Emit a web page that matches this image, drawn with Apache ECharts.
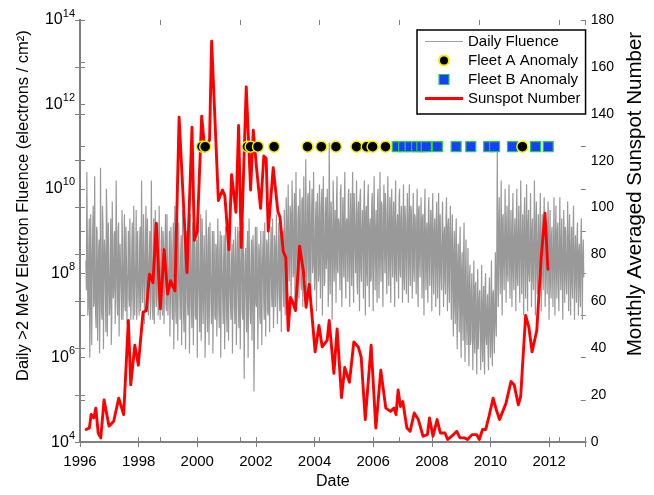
<!DOCTYPE html>
<html><head><meta charset="utf-8">
<script src="https://cdn.jsdelivr.net/npm/echarts@6/dist/echarts.min.js"></script>
<style>html,body{margin:0;padding:0;background:#fff}#c{width:654px;height:495px}</style>
</head><body><div id="c"></div>
<script>
// ---- data ----
const fluenceStartYear = 1996.2;
const fluenceStepYears = 1 / 30;
// daily fluence, log10(electrons / cm^2), samples at start + i*step
const fluenceLog10 = [
8.3,10.4,7.0,8.6,6.0,9.4,6.3,8.9,7.2,10.3,7.0,9.1,6.4,8.5,6.1,
10.5,7.1,9.6,6.2,8.8,7.5,10.0,6.5,9.2,7.0,8.4,6.3,9.7,7.4,8.9,
6.8,10.2,7.3,9.0,6.5,8.7,7.6,9.5,6.9,8.3,7.2,9.1,6.8,8.0,7.4,
9.3,6.9,8.6,7.5,9.6,7.0,8.2,6.9,9.0,7.6,8.7,7.1,10.2,7.3,9.4,
6.8,8.9,7.4,9.3,7.0,8.5,6.9,10.2,7.5,8.3,6.8,9.5,7.2,8.8,7.0,
9.6,6.9,8.4,7.6,9.0,6.8,8.7,7.3,9.4,7.0,8.2,6.5,9.1,7.4,8.6,
6.2,9.6,7.1,8.8,6.4,9.2,7.6,8.5,6.3,9.5,7.0,8.7,6.2,9.0,7.3,
8.4,6.1,9.4,7.2,8.9,6.3,9.6,7.0,8.6,6.0,9.1,7.4,8.8,6.4,9.3,
6.8,8.9,6.0,9.5,7.1,8.6,6.3,9.2,7.3,8.4,6.1,9.0,7.0,8.7,6.5,
9.3,7.2,8.5,6.0,8.9,7.4,8.3,6.2,9.1,7.0,8.6,6.4,9.2,7.3,8.2,
6.1,8.8,7.2,9.1,6.3,8.5,7.5,9.0,6.2,8.7,7.1,9.2,5.5,8.4,7.4,
8.6,6.0,9.3,7.2,8.3,6.4,8.9,5.2,8.5,7.3,9.1,6.2,8.7,7.0,9.0,
6.3,8.5,7.4,9.2,6.5,8.8,7.1,9.0,6.6,8.4,7.5,9.3,6.7,8.9,7.2,
9.4,6.8,8.7,7.5,9.1,6.6,8.9,7.6,9.5,7.0,9.8,7.4,10.1,7.8,9.6,
7.3,10.2,7.9,9.5,7.1,10.4,8.0,9.3,7.4,10.0,7.8,9.7,7.2,10.3,8.1,
10.7,7.5,9.8,7.9,10.2,7.3,9.5,8.0,10.4,7.6,9.2,7.1,9.9,7.8,10.1,
7.4,9.6,7.0,10.3,7.7,9.4,8.1,10.0,7.2,11.1,7.5,9.7,6.9,10.2,7.8,
9.5,7.3,10.3,8.0,9.2,7.6,10.1,7.2,9.8,7.9,10.4,7.4,9.3,7.8,10.0,
7.2,9.9,7.7,10.4,7.3,9.4,8.0,10.2,7.5,9.7,7.1,10.0,7.8,9.5,7.4,
10.2,7.0,9.6,7.7,10.1,7.2,9.3,7.9,9.9,7.1,10.3,7.6,9.5,7.3,10.0,
7.4,10.4,7.8,9.6,7.2,10.1,8.0,9.4,7.5,10.3,7.7,9.8,7.3,10.0,7.9,
9.7,7.2,10.2,7.8,9.4,7.4,10.0,7.9,9.6,7.3,10.1,7.6,9.3,7.5,9.9,
7.3,10.1,7.7,9.5,7.4,9.9,7.8,9.3,7.5,10.0,7.2,9.6,7.9,9.8,7.4,
9.4,7.0,10.0,7.6,9.2,7.3,9.8,7.7,9.5,7.1,9.9,7.5,9.3,7.2,9.7,
7.4,9.9,7.0,9.4,7.6,9.7,7.2,9.1,7.5,9.8,7.1,9.3,7.3,9.6,6.9,
9.4,6.5,9.0,6.8,9.3,6.2,8.7,6.6,9.1,6.0,8.5,6.4,9.2,5.9,8.8,
6.3,8.6,5.8,8.2,6.4,8.0,5.7,8.3,6.1,7.8,5.6,8.1,6.2,7.6,5.7,
8.2,5.9,7.7,5.6,8.0,6.3,7.5,5.7,7.9,6.0,8.3,5.8,7.6,6.1,8.5,
6.5,10.9,7.2,9.8,7.5,10.2,7.0,9.4,7.6,10.0,7.3,9.6,7.8,10.1,7.4,
9.5,7.2,9.9,7.6,9.3,7.1,10.0,7.7,9.6,7.3,10.2,7.5,9.4,7.0,9.8,
7.4,10.1,7.1,9.5,7.8,9.9,7.2,9.3,7.6,10.2,7.0,9.7,7.5,9.4,7.3,
9.9,7.1,9.4,7.6,9.8,7.2,9.2,7.5,9.7,6.9,9.5,7.4,9.1,7.2,9.8,
7.0,9.6,7.4,9.2,7.1,9.8,7.6,9.3,6.9,9.5,7.3,9.0,7.5,9.7,7.1,
9.4,7.0,9.1,7.4,9.6,6.9,8.9,7.3,9.2,7.0,8.7,7.2,9.3,6.9,8.8
];
// in-between daily samples, log10, at start + (i + 0.5)*step
const fluenceLog10Mid = [
7.6,8.9,7.2,9.3,6.8,8.4,7.9,9.6,7.3,8.1,6.7,9.0,7.5,8.8,7.1,
8.2,6.9,9.1,7.7,8.5,6.6,9.4,7.8,8.0,7.2,9.3,6.9,8.4,7.6,9.0,
7.9,8.6,7.0,9.2,7.7,8.1,6.9,8.8,7.5,9.4,7.1,8.3,7.8,9.0,7.2,
8.1,7.4,9.2,6.9,8.4,7.8,9.5,7.2,8.0,7.0,9.1,7.6,8.5,7.9,8.3,
7.7,9.6,7.1,8.2,7.9,9.0,7.3,8.6,6.9,9.3,7.8,8.1,7.5,9.2,7.6,
8.3,7.5,9.1,7.0,8.6,7.8,9.4,7.1,8.2,7.7,9.0,7.4,8.5,6.9,9.2,
7.4,8.3,6.8,9.1,7.6,8.0,6.9,8.9,7.7,8.2,6.6,9.3,7.5,8.4,7.0,
9.0,7.3,8.2,6.7,9.2,7.6,8.4,6.9,8.8,7.5,8.1,6.6,9.4,7.2,8.3,
7.5,8.2,7.0,8.8,6.6,9.1,7.7,8.0,6.8,9.0,7.4,8.3,6.9,8.6,7.2,
8.4,6.7,9.0,7.5,8.1,6.8,8.9,7.3,8.2,6.6,9.3,7.6,8.0,6.9,8.7,
7.6,8.3,6.8,8.7,7.4,9.1,6.7,8.2,7.7,8.9,6.9,8.0,7.3,8.6,6.6,
9.0,7.4,8.1,6.8,8.8,7.5,8.4,6.5,9.1,7.2,8.0,7.6,8.5,6.8,8.2,
7.8,9.0,6.9,8.3,7.6,8.7,7.0,8.4,7.8,9.1,7.2,8.2,7.4,8.6,7.9,
8.2,7.6,9.2,7.1,8.5,7.8,9.0,7.2,8.8,7.9,9.3,8.0,9.0,8.3,9.4,
8.6,9.3,8.0,9.9,8.4,9.0,7.7,9.6,8.3,9.2,7.6,9.8,8.5,9.1,7.9,
9.2,8.3,9.9,7.7,9.4,8.6,10.0,8.2,9.1,7.9,9.7,8.4,9.3,8.0,9.5,
8.5,10.0,8.2,9.1,7.8,9.8,8.4,9.2,7.9,9.5,8.6,9.0,8.1,9.6,8.3,
8.8,9.7,8.1,9.3,8.5,9.9,7.9,9.0,8.4,9.6,8.0,9.2,8.6,9.8,8.2,
9.1,8.4,9.5,8.0,9.9,8.6,9.2,7.8,9.4,8.3,9.8,8.1,9.0,8.7,9.6,
8.3,9.4,8.0,9.8,8.5,9.1,7.8,9.6,8.2,9.3,8.6,9.0,8.1,9.7,8.4,
9.0,8.5,9.7,8.1,9.2,8.7,9.9,8.0,9.4,8.6,9.1,8.2,9.6,8.4,9.3,
8.4,9.5,8.0,9.1,8.6,9.8,8.1,9.3,8.5,9.0,7.9,9.6,8.3,9.2,8.7,
9.2,8.2,9.6,8.5,9.0,8.1,9.4,8.6,9.1,7.9,9.5,8.3,9.0,8.6,9.3,
8.1,9.3,8.4,9.0,7.9,9.5,8.2,9.1,8.5,9.4,8.0,9.0,8.3,9.2,8.1,
9.0,8.2,9.4,8.0,9.2,8.4,8.9,7.9,9.3,8.2,9.1,7.8,9.0,8.3,8.7,
7.6,8.5,7.2,8.8,7.0,8.3,7.4,8.6,6.8,8.1,7.1,8.4,6.6,8.0,6.9,
7.5,6.6,7.9,6.3,7.6,6.8,7.3,6.4,7.7,6.5,7.2,6.2,7.4,6.6,7.0,
6.4,7.3,6.1,7.6,6.5,7.1,6.2,7.4,6.6,7.0,6.3,7.5,6.7,7.2,6.9,
8.6,8.0,9.2,8.3,8.9,7.9,9.3,8.2,8.8,8.5,9.1,8.0,9.0,8.4,8.7,
8.3,9.1,8.0,8.8,8.4,9.2,7.9,8.9,8.2,9.0,8.5,8.7,8.1,9.3,8.4,
8.9,8.2,9.2,8.0,8.7,8.3,9.0,7.9,8.8,8.4,9.1,8.1,8.6,8.3,9.0,
8.2,8.8,7.9,9.0,8.3,8.6,8.0,9.1,8.2,8.7,7.8,8.9,8.1,8.5,8.3,
8.7,8.1,9.0,7.9,8.6,8.2,8.8,7.8,8.5,8.3,9.1,7.9,8.4,8.2,8.8,
8.1,8.6,7.8,8.9,8.2,8.4,7.9,8.7,8.0,8.5,7.7,8.8,8.1,8.3,7.9
];

const sunspotYears = [
1996.21,1996.32,1996.38,1996.47,1996.54,1996.62,1996.71,1996.82,1996.99,1997.15,
1997.32,1997.49,1997.65,1997.73,1997.87,1997.99,1998.15,1998.26,1998.37,1998.49,
1998.60,1998.65,1998.74,1998.87,1998.99,1999.09,1999.24,1999.38,1999.50,1999.65,
1999.82,1999.90,2000.00,2000.15,2000.26,2000.42,2000.49,2000.72,2000.86,2000.94,
2001.08,2001.17,2001.32,2001.41,2001.50,2001.67,2001.82,2001.91,2002.02,2002.16,
2002.27,2002.35,2002.42,2002.59,2002.75,2002.82,2002.93,2003.02,2003.10,2003.18,
2003.26,2003.35,2003.49,2003.62,2003.71,2003.82,2004.02,2004.15,2004.26,2004.43,
2004.50,2004.66,2004.77,2004.92,2005.03,2005.19,2005.34,2005.49,2005.59,2005.73,
2005.93,2006.09,2006.26,2006.43,2006.59,2006.71,2006.78,2006.85,2006.93,2007.01,
2007.15,2007.26,2007.40,2007.54,2007.70,2007.85,2007.92,2008.04,2008.18,2008.29,
2008.45,2008.54,2008.68,2008.85,2008.96,2009.11,2009.22,2009.37,2009.53,2009.62,
2009.73,2009.84,2009.95,2010.09,2010.20,2010.31,2010.42,2010.53,2010.70,2010.81,
2010.95,2011.03,2011.20,2011.31,2011.42,2011.58,2011.73,2011.86,2011.96
];
const sunspotValues = [
5.4,6.0,11.8,10.3,14.5,3.9,1.8,18,6.8,8.9,
18.7,11.7,51.9,24.4,41.3,32.8,55.4,56,71.6,68,
93.4,92.7,56.8,82.1,63.1,68.8,64.5,138.5,108.9,72.3,
134.3,86,89.9,139,124,129,171,103,107.5,105,
82,114,98,135,83,151.5,107.5,133,117,99.7,
122,121,90,117,98.3,96,81.4,78.6,47.6,61.7,
59.6,56.1,83.5,73,57.5,67.3,38.5,49.7,40.6,43.4,
51.9,29.3,48.3,19,31.8,25.5,42.7,40.6,36.3,9.6,
41.3,6.0,30.7,14.5,13.1,14.5,11.7,22.2,15.2,17.3,
6.0,4.6,12.4,9.6,2.5,3.2,10.3,2.5,9.6,3.9,
3.9,1.1,2.5,4.6,1.8,1.8,1.1,3.2,3.2,1.1,
5.4,5.4,11,18.7,13.8,9.6,13.1,16.6,25.8,24.4,
15.9,19.4,54,49,38.5,47.6,78.6,97.6,73.7
];

const fleetAYears = [2000.16,2000.27,2001.71,2001.82,2002.07,2002.62,2003.76,2004.23,2004.73,2005.43,2005.78,2005.98,2006.42,2011.09];
const fleetBYears = [2006.82,2007.04,2007.26,2007.48,2007.66,2007.81,2008.19,2008.83,2009.33,2009.94,2010.14,2010.75,2011.54,2011.97];
const anomalyLevel = 1e11;

const leftLabelExponents = [4, 6, 8, 10, 12, 14];
const xLabelYears = [1996, 1998, 2000, 2002, 2004, 2006, 2008, 2010, 2012];

// ---- chart ----
const FONT = '"Liberation Sans", Arial, sans-serif';
const AX = '#808080';
const fluenceData = [];
fluenceLog10.forEach((v, i) => {
  fluenceData.push([fluenceStartYear + i * fluenceStepYears, Math.pow(10, v)]);
  if (i < fluenceLog10Mid.length) fluenceData.push([fluenceStartYear + (i + 0.5) * fluenceStepYears, Math.pow(10, fluenceLog10Mid[i])]);
});
const sunspotData = sunspotYears.map((y, i) => [y, sunspotValues[i]]);
const fleetAData = fleetAYears.map(y => [y, anomalyLevel]);
const fleetBData = fleetBYears.map(y => [y, anomalyLevel]);

const tick = { show: true, inside: true, length: 5, lineStyle: { color: AX, width: 1 } };
const noLine = { show: false };
const noLabel = { show: false };
const noSplit = { show: false };

const chart = echarts.init(document.getElementById('c'));
chart.setOption({
  animation: false,
  backgroundColor: '#fff',
  grid: { left: 80, right: 55.6, top: 20, bottom: 49, containLabel: false },
  xAxis: [
    { type: 'value', min: 1996, max: 2013.25, interval: 2, position: 'bottom',
      name: 'Date', nameLocation: 'middle', nameGap: 31,
      nameTextStyle: { fontSize: 16, color: '#000', fontFamily: FONT },
      axisLine: { show: true, lineStyle: { color: AX, width: 2 } }, axisTick: tick, splitLine: noSplit,
      axisLabel: { margin: 12, fontSize: 15, color: '#000', fontFamily: FONT,
        formatter: v => xLabelYears.indexOf(Math.round(v * 100) / 100) >= 0 ? String(v) : '' } },
    { type: 'value', min: 1996, max: 2013.25, interval: 2, position: 'top',
      axisLine: noLine, axisTick: tick, axisLabel: noLabel, splitLine: noSplit },
    { type: 'value', min: 0, max: 6.33, interval: 1, position: 'bottom',
      axisLine: noLine, axisTick: tick, axisLabel: noLabel, splitLine: noSplit },
    { type: 'value', min: 0, max: 6.33, interval: 1, position: 'top',
      axisLine: noLine, axisTick: tick, axisLabel: noLabel, splitLine: noSplit }
  ],
  yAxis: [
    { type: 'log', logBase: 10, min: 1e4, max: 1e14, interval: 1, splitNumber: 10, position: 'left',
      name: 'Daily >2 MeV Electron Fluence (electrons / cm²)', nameLocation: 'middle', nameGap: 48, nameRotate: 90,
      nameTextStyle: { fontSize: 16.5, color: '#000', fontFamily: FONT, padding: [0, 0, 0, 51] },
      axisLine: { show: true, lineStyle: { color: AX, width: 2 } }, axisTick: tick, splitLine: noSplit,
      axisLabel: { margin: 5, color: '#000',
        formatter: v => { const e = Math.round(Math.log10(v)); return leftLabelExponents.indexOf(e) >= 0 ? '{b|10}{s|' + e + '}' : ''; },
        rich: { b: { fontSize: 16, fontFamily: FONT, color: '#000', lineHeight: 24 },
                s: { fontSize: 11, fontFamily: FONT, color: '#000', lineHeight: 11, verticalAlign: 'top' } } } },
    { type: 'value', min: 0, max: 180, interval: 20, position: 'right',
      name: 'Monthly Averaged Sunspot Number', nameLocation: 'middle', nameGap: 38, nameRotate: 90,
      nameTextStyle: { fontSize: 20.5, color: '#000', fontFamily: FONT, padding: [0, 0, 0, 74] },
      axisLine: { show: true, lineStyle: { color: AX, width: 2 } }, axisTick: tick, splitLine: noSplit,
      axisLabel: { margin: 5, fontSize: 14, color: '#000', fontFamily: FONT } },
    { type: 'value', min: 0, max: 180, interval: 20, position: 'left',
      axisLine: noLine, axisTick: tick, axisLabel: noLabel, splitLine: noSplit },
    { type: 'log', logBase: 10, min: 1e4, max: 1e14, interval: 1, splitNumber: 10, position: 'right',
      axisLine: noLine, axisTick: tick, axisLabel: noLabel, splitLine: noSplit }
  ],
  legend: {
    orient: 'vertical', left: 417, top: 30, align: 'left',
    itemWidth: 38, itemHeight: 10, itemGap: 4, padding: [4, 5, 8, 8],
    borderColor: '#000', borderWidth: 1.5, backgroundColor: '#fff',
    textStyle: { fontSize: 15, fontFamily: FONT, color: '#000', lineHeight: 15 },
    data: [
      { name: 'Daily Fluence', icon: 'path://M0,0H38V1.2H0Z', itemStyle: { color: '#a0a0a0', borderWidth: 0 } },
      { name: 'Fleet A Anomaly' },
      { name: 'Fleet B Anomaly', icon: 'path://M0,0H10V10H0Z', itemStyle: { color: '#1440ff', borderColor: '#2ecc40', borderWidth: 1.2 } },
      { name: 'Sunspot Number', icon: 'path://M0,0H38V2.8H0Z', itemStyle: { color: '#ff0000', borderWidth: 0 } }
    ]
  },
  series: [
    { name: 'Daily Fluence', type: 'line', xAxisIndex: 0, yAxisIndex: 0, data: fluenceData,
      showSymbol: false, symbol: 'none', lineStyle: { color: '#999999', width: 1.2 }, itemStyle: { color: '#999999' }, z: 2 },
    { name: 'Sunspot Number', type: 'line', xAxisIndex: 0, yAxisIndex: 1, data: sunspotData,
      showSymbol: false, symbol: 'none', lineStyle: { color: '#ff0000', width: 2.9, cap: 'round', join: 'round' },
      itemStyle: { color: '#ff0000' }, z: 3 },
    { name: 'Fleet B Anomaly', type: 'scatter', xAxisIndex: 0, yAxisIndex: 0, data: fleetBData,
      symbol: 'rect', symbolSize: 10, itemStyle: { color: '#1440ff', borderColor: '#2ecc40', borderWidth: 1.2, opacity: 1 }, z: 4 },
    { name: 'Fleet A Anomaly', type: 'scatter', xAxisIndex: 0, yAxisIndex: 0, data: fleetAData,
      symbol: 'circle', symbolSize: 11, itemStyle: { color: '#000000', borderColor: '#f0f000', borderWidth: 1.5, opacity: 1 }, z: 5 }
  ]
});
</script></body></html>
